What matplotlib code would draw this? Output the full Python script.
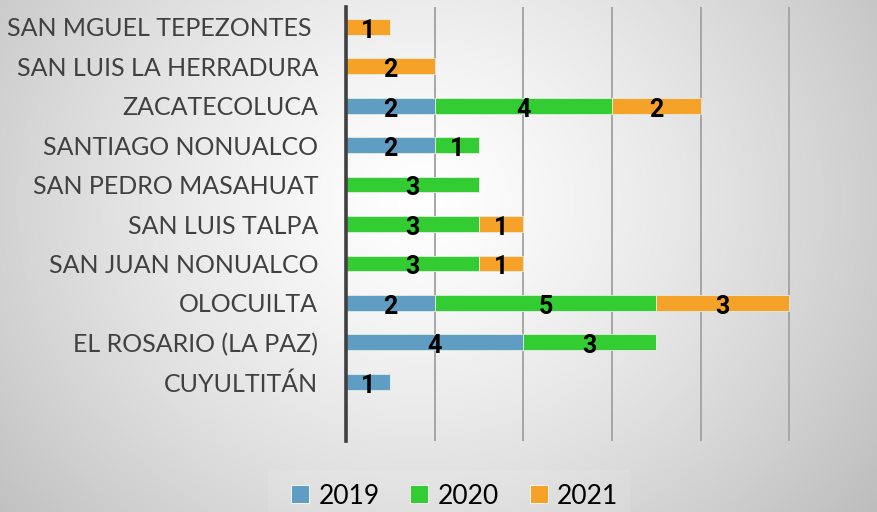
import numpy as np
import matplotlib
matplotlib.use("Agg")
import matplotlib.pyplot as plt
from matplotlib.lines import Line2D
from matplotlib.patches import Rectangle

categories = ["CUYULTITÁN", "EL ROSARIO (LA PAZ)", "OLOCUILTA", "SAN JUAN NONUALCO",
              "SAN LUIS TALPA", "SAN PEDRO MASAHUAT", "SANTIAGO NONUALCO",
              "ZACATECOLUCA", "SAN LUIS LA HERRADURA", "SAN MGUEL TEPEZONTES "]
v2019 = [1, 4, 2, 0, 0, 0, 2, 2, 0, 0]
v2020 = [0, 3, 5, 3, 3, 3, 1, 4, 0, 0]
v2021 = [0, 0, 3, 1, 1, 0, 0, 2, 2, 1]
series_names = ["2019", "2020", "2021"]
colors = ["#5f9dc3", "#33cc33", "#f6a229"]

W, H = 878, 512
fig = plt.figure(figsize=(W / 100, H / 100), dpi=100)

# radial gray gradient background
yy, xx = np.mgrid[0:H, 0:W]
r = np.sqrt(((xx - 420) / 1.0) ** 2 + ((yy - 200) / 0.9) ** 2)
r = r / r.max()
g = 1.0 - 0.26 * np.clip(r, 0, 1) ** 1.3
bg = np.dstack([g, g, g])
fig.figimage(bg, xo=0, yo=0, origin="upper", zorder=-10)
fig.patch.set_alpha(0)

# faint lighter legend box
fig.patches.append(Rectangle((268 / W, 0), (630 - 268) / W, (512 - 470) / H,
                             transform=fig.transFigure, facecolor="white",
                             alpha=0.1, edgecolor="none", zorder=-5))

ax = fig.add_axes([346 / W, 1 - 441 / H, 1 - 346 / W, (441 - 7) / H])
ax.set_facecolor("none")

y = np.arange(len(categories))
left = np.zeros(len(categories))
for vals, c in zip([v2019, v2020, v2021], colors):
    vals = np.array(vals, dtype=float)
    ax.barh(y, vals, left=left, height=0.4, color=c, edgecolor="#dfeedf",
            linewidth=0.6, zorder=3)
    for yi, (l, v) in enumerate(zip(left, vals)):
        if v > 0:
            ax.text(l + v / 2, yi - 0.1, f"{int(v)}", ha="center", va="center",
                    fontsize=18, fontweight="bold", color="black",
                    family="Roboto", zorder=5)
    left += vals

ax.set_xlim(0, 12)
ax.set_ylim(-1.5, len(categories) - 0.5)
ax.set_xticks(np.arange(2, 13, 2))
ax.set_xticklabels([])
ax.tick_params(axis="x", length=0)
ax.grid(axis="x", color="#a6a6a6", linewidth=1.4, zorder=0)
ax.set_yticks(y)
ax.set_yticklabels(categories, fontsize=18, color="#404040", family="Lato")
ax.tick_params(axis="y", length=0, pad=20)
for s in ["top", "right", "bottom"]:
    ax.spines[s].set_visible(False)
ax.spines["left"].set_color("#404040")
ax.spines["left"].set_linewidth(2.6)
ax.spines["left"].set_zorder(6)

handles = [Line2D([0], [0], marker="s", linestyle="none", markersize=13,
                  markerfacecolor=c, markeredgecolor="#ffffff", markeredgewidth=0.6)
           for c in colors]
leg = fig.legend(handles, series_names, loc="center", bbox_to_anchor=(454 / W, 1 - 496 / H),
                 ncol=3, frameon=False, handletextpad=0.3,
                 columnspacing=1.1, handlelength=0.8, prop={"family": "Lato", "size": 19})

fig.savefig("out.png", dpi=100)
